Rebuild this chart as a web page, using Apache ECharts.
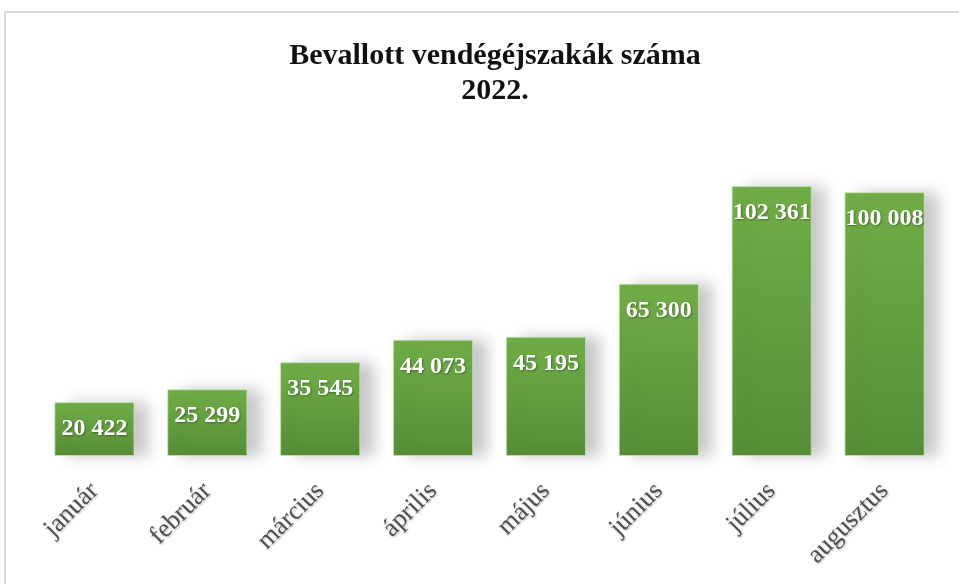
<!DOCTYPE html>
<html>
<head>
<meta charset="utf-8">
<script src="https://cdn.jsdelivr.net/npm/echarts@6/dist/echarts.min.js"></script>
<style>
  html, body { margin: 0; padding: 0; background: #fff; }
  #chart { width: 959px; height: 584px; }
</style>
</head>
<body>
<div id="chart"></div>
<script>
// honapok es ertekek
var months = ['január', 'február', 'március', 'április', 'május', 'június', 'július', 'augusztus'];
var nights = [20422, 25299, 35545, 44073, 45195, 65300, 102361, 100008];

function fmt (v) {
  return String(v).replace(/\B(?=(\d{3})+(?!\d))/g, ' ');
}

var chart = echarts.init(document.getElementById('chart'));
chart.setOption({
  animation: false,
  graphic: [{
    type: 'rect',
    shape: { x: 5, y: 12, width: 1000, height: 1000 },
    style: { fill: 'none', stroke: '#d9d9d9', lineWidth: 2 }
  }],
  title: {
    text: 'Bevallott vendégéjszakák száma\n2022.',
    left: 490,
    top: 34,
    textAlign: 'center',
    textStyle: {
      fontFamily: 'Liberation Serif',
      fontWeight: 'bold',
      fontSize: 30,
      lineHeight: 35,
      color: '#111'
    }
  },
  grid: { left: 38, right: 18, top: 139.5, bottom: 128, containLabel: false },
  xAxis: {
    type: 'category',
    data: months,
    axisLine: { show: false },
    axisTick: { show: false },
    axisLabel: {
      rotate: 45,
      margin: 31,
      interval: 0,
      fontFamily: 'Liberation Serif',
      fontSize: 26,
      color: '#505050',
      textShadowColor: 'rgba(0,0,0,0.3)',
      textShadowBlur: 2,
      textShadowOffsetX: 1,
      textShadowOffsetY: 1
    }
  },
  yAxis: {
    type: 'value',
    min: 0,
    max: 120000,
    show: false,
    splitLine: { show: false }
  },
  series: [{
    type: 'bar',
    data: nights,
    barWidth: '71%',
    itemStyle: {
      color: new echarts.graphic.LinearGradient(0, 0, 0, 1, [
        { offset: 0, color: '#70ad47' },
        { offset: 1, color: '#568e37' }
      ]),
      borderColor: 'rgba(200,230,180,0.7)',
      borderWidth: 1,
      shadowColor: 'rgba(0,0,0,0.22)',
      shadowBlur: 14,
      shadowOffsetX: 14,
      shadowOffsetY: 0
    },
    label: {
      show: true,
      position: 'insideTop',
      distance: 15,
      formatter: function (p) { return fmt(p.value); },
      fontFamily: 'Liberation Serif',
      fontWeight: 'bold',
      fontSize: 24,
      color: '#fff',
      textShadowColor: 'rgba(0,0,0,0.35)',
      textShadowBlur: 2,
      textShadowOffsetX: 1,
      textShadowOffsetY: 1
    }
  }]
});
</script>
</body>
</html>
